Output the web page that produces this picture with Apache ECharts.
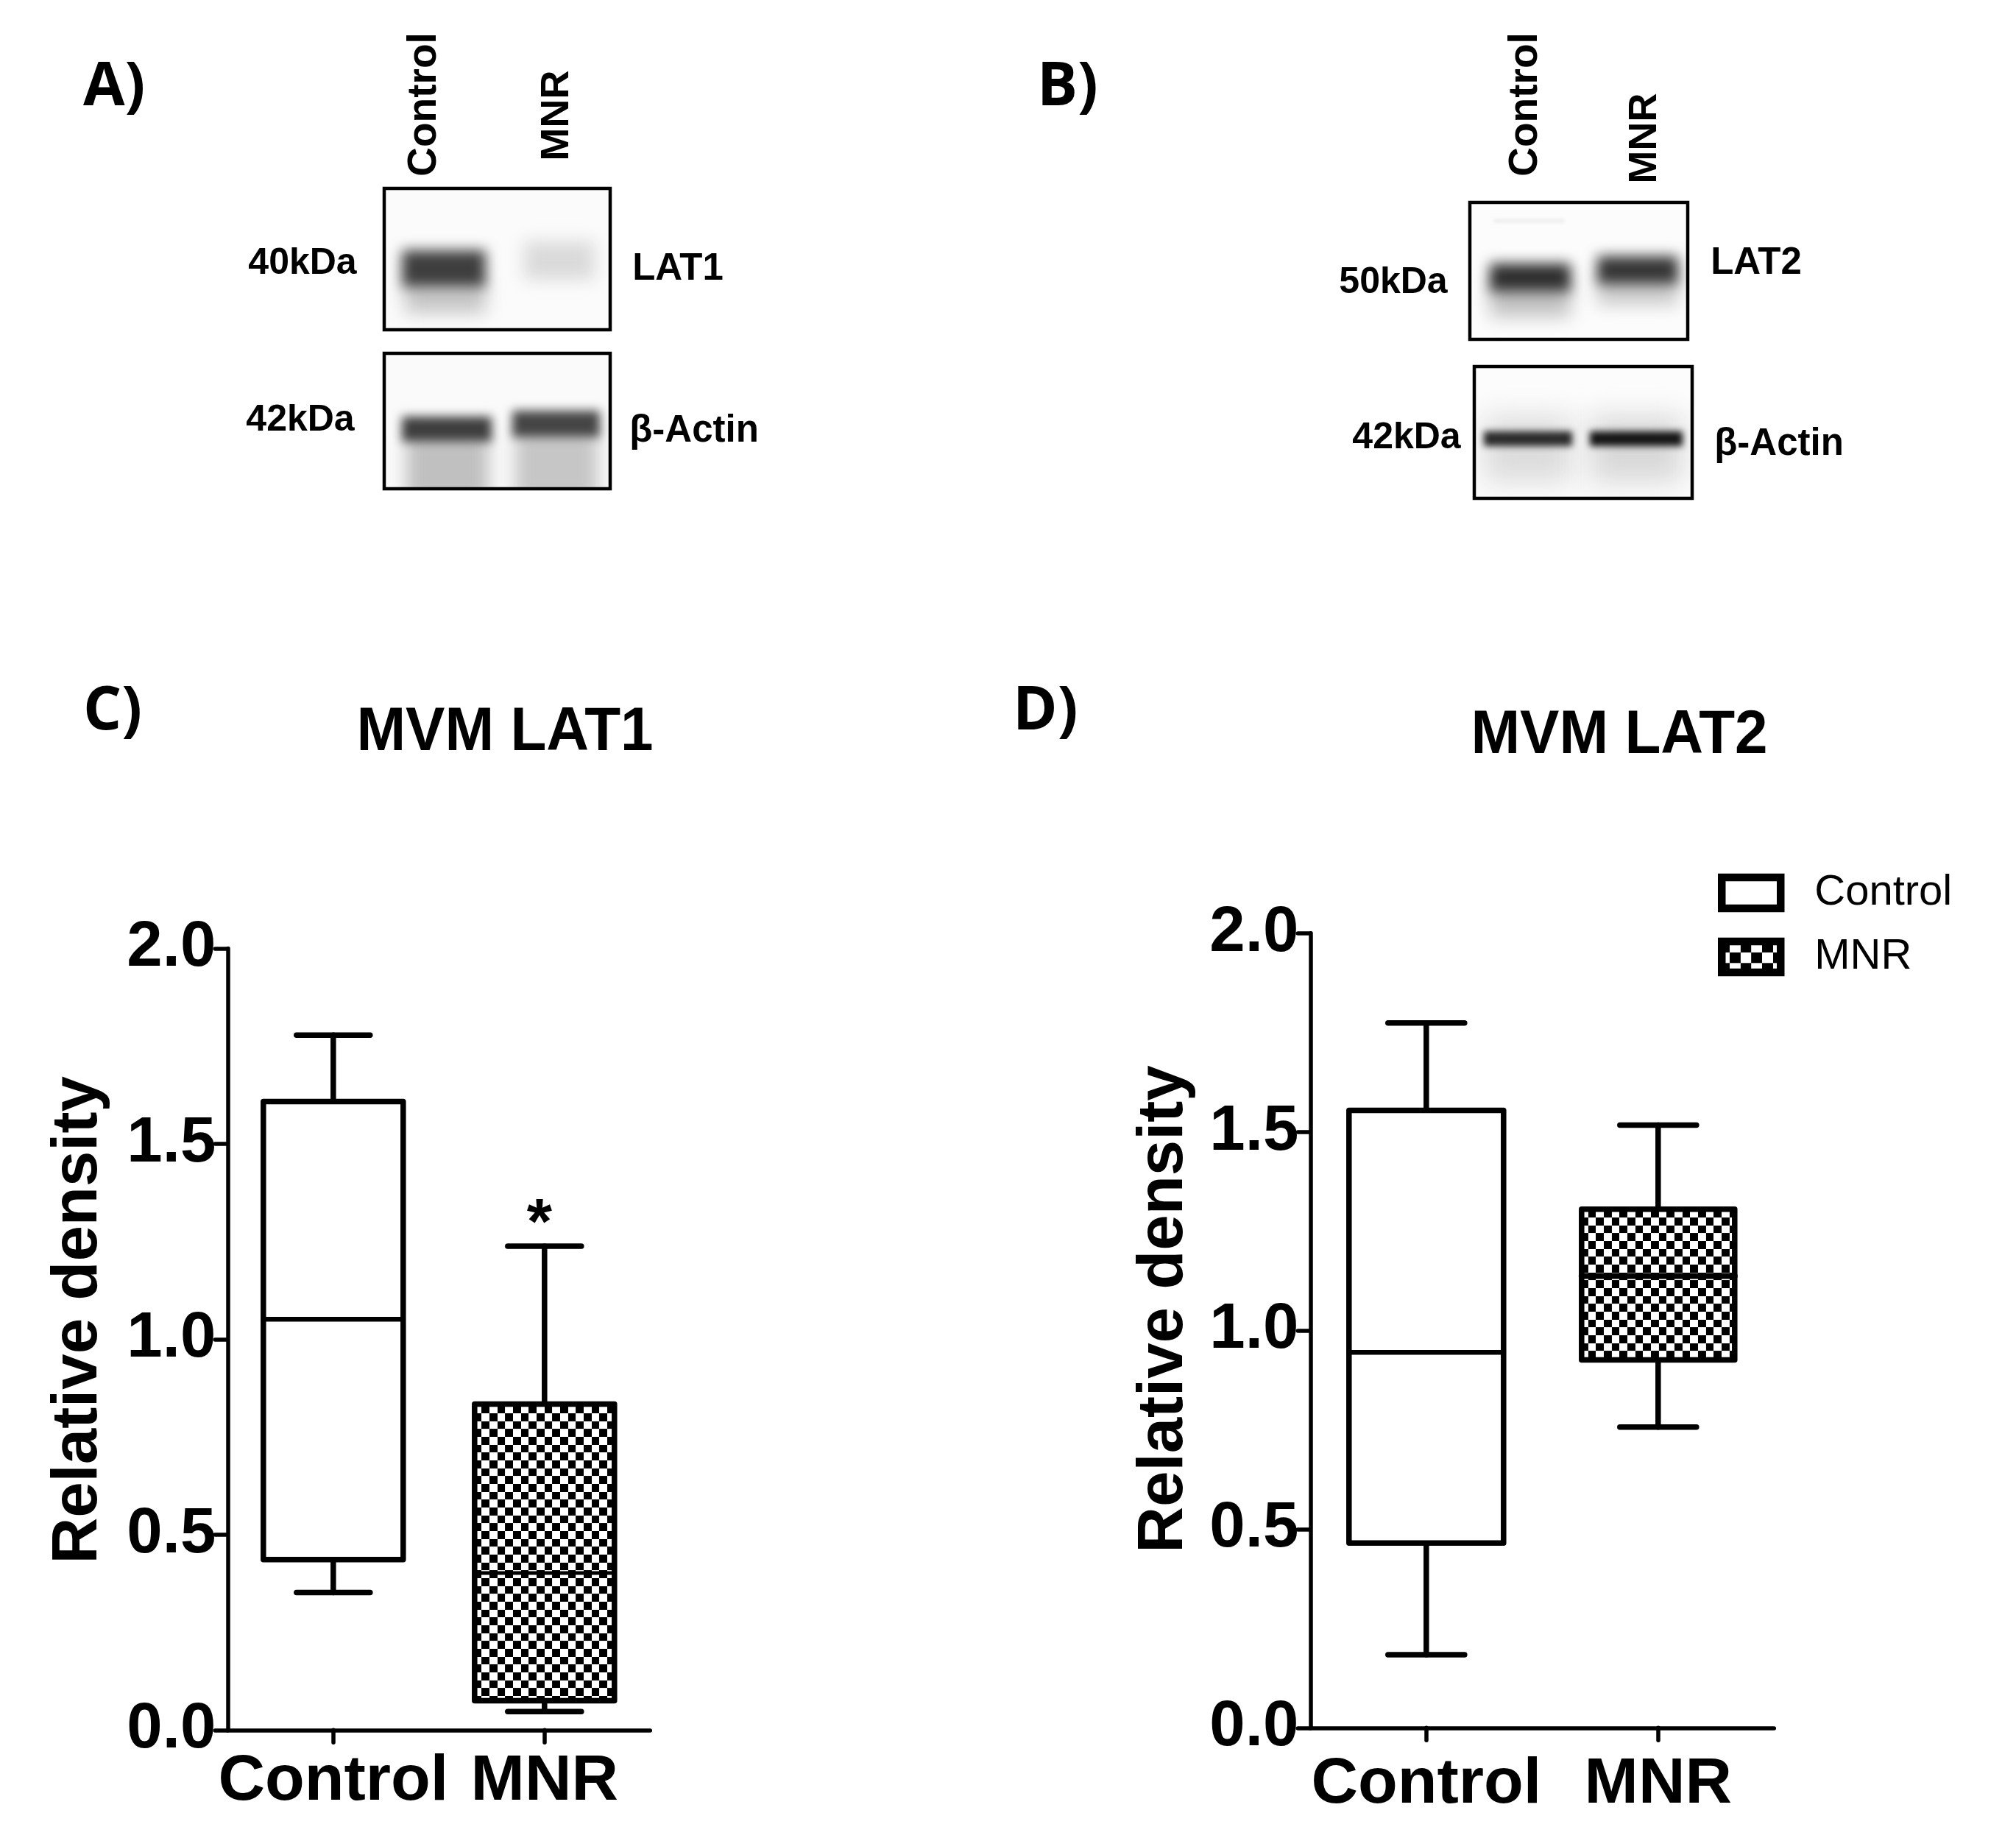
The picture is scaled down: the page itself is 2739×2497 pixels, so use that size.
<!DOCTYPE html>
<html><head><meta charset="utf-8">
<script src="https://cdn.jsdelivr.net/npm/echarts@6/dist/echarts.min.js"></script>
<style>html,body{margin:0;padding:0;background:#fff}#c{width:2739px;height:2497px}</style>
</head><body><div id="c"></div>
<script>
// ---- data: [category index, low whisker, Q1, median, Q3, high whisker]
const categories = ['Control', 'MNR'];
const yTickStep = 0.5;
const lat1Control = [0, 0.352, 0.436, 1.051, 1.608, 1.778];
const lat1MNR     = [1, 0.047, 0.075, 0.402, 0.834, 1.238];
const lat2Control = [0, 0.184, 0.465, 0.945, 1.554, 1.774];
const lat2MNR     = [1, 0.757, 0.926, 1.137, 1.305, 1.517];
const chartTitles = ['MVM LAT1', 'MVM LAT2'];
const yAxisName = 'Relative density';
const FONT = '"Liberation Sans", Arial, sans-serif';

function checker(x, y, size) {
  const cv = document.createElement('canvas');
  cv.width = cv.height = 64;
  const g = cv.getContext('2d');
  g.fillStyle = '#fff'; g.fillRect(0, 0, 64, 64);
  g.fillStyle = '#000'; g.fillRect(0, 0, 32, 32); g.fillRect(32, 32, 32, 32);
  return { image: cv, repeat: 'repeat', x: x, y: y, scaleX: size / 32, scaleY: size / 32 };
}

function boxRenderer(boxW, capW, lw, medW, fill, star) {
  return function (params, api) {
    const cat = api.value(0);
    const x = api.coord([cat, 0])[0];
    const Y = i => api.coord([cat, api.value(i)])[1];
    const low = Y(1), q1 = Y(2), med = Y(3), q3 = Y(4), high = Y(5);
    const line = (x1, y1, x2, y2, w) => ({
      type: 'line', shape: { x1, y1, x2, y2 },
      style: { stroke: '#000', lineWidth: w, fill: null, lineCap: 'round' }
    });
    const kids = [
      line(x, high, x, q3, lw), line(x - capW / 2, high, x + capW / 2, high, lw),
      line(x, low, x, q1, lw), line(x - capW / 2, low, x + capW / 2, low, lw),
      { type: 'rect', shape: { x: x - boxW / 2, y: q3, width: boxW, height: q1 - q3 },
        style: { fill: fill, stroke: '#000', lineWidth: lw, lineJoin: 'round' } },
      line(x - boxW / 2, med, x + boxW / 2, med, medW)
    ];
    if (star) kids.push({ type: 'text', style: {
      text: '*', x: x - 7, y: high - 28, align: 'center', verticalAlign: 'middle',
      font: 'bold 88px ' + FONT, fill: '#000' } });
    return { type: 'group', children: kids };
  };
}

// ---- western blot panels, painted as blurred bands
function blot(w, h, ox, oy, bg, bands) {
  const cv = document.createElement('canvas');
  cv.width = w; cv.height = h;
  const g = cv.getContext('2d');
  g.fillStyle = bg; g.fillRect(0, 0, w, h);
  bands.forEach(b => {
    g.filter = 'blur(' + b[5] + 'px)';
    g.fillStyle = b[4];
    g.fillRect(b[0] - ox, b[1] - oy, b[2] - b[0], b[3] - b[1]);
  });
  g.filter = 'none';
  return cv;
}
const blotPanels = [
  { x: 520, y: 254, w: 311, h: 196, bg: '#fbfbfb', bands: [
    [550, 385, 660, 425, '#c4c4c4', 12],
    [546, 340, 660, 390, '#3e3e3e', 9],
    [712, 328, 808, 380, '#dadada', 11] ] },
  { x: 520, y: 478, w: 311, h: 188, bg: '#fafafa', bands: [
    [552, 592, 664, 680, '#c0c0c0', 11],
    [700, 586, 812, 680, '#c6c6c6', 11],
    [546, 566, 668, 600, '#3e3e3e', 7],
    [696, 558, 815, 594, '#454545', 7] ] },
  { x: 1995, y: 273, w: 300, h: 190, bg: '#fcfcfc', bands: [
    [2030, 298, 2125, 302, '#e8e8e8', 2],
    [2024, 385, 2134, 430, '#c0c0c0', 12],
    [2170, 375, 2280, 415, '#cccccc', 11],
    [2024, 358, 2134, 396, '#2e2e2e', 9],
    [2170, 348, 2280, 386, '#353535', 9] ] },
  { x: 2001, y: 496, w: 300, h: 183, bg: '#fcfcfc', bands: [
    [2016, 565, 2136, 655, '#dcdcdc', 18],
    [2160, 565, 2286, 655, '#d8d8d8', 18],
    [2016, 586, 2136, 606, '#2a2a2a', 5],
    [2160, 586, 2286, 606, '#141414', 5] ] }
];
const blotTexts = [
  ['Control', 577, 142, 55, 90], ['MNR', 757, 157, 54, 90],
  ['Control', 2073, 142, 55, 90], ['MNR', 2235, 188, 54, 90],
  ['40kDa', 411, 358, 50, 0], ['42kDa', 408, 571, 50, 0],
  ['LAT1', 921, 366, 51, 0], ['β-Actin', 943, 586, 51, 0],
  ['50kDa', 1893, 384, 50, 0], ['42kDa', 1911, 595, 50, 0],
  ['LAT2', 2386, 358, 51, 0], ['β-Actin', 2417, 604, 51, 0]
];
const panelLetters = [['A)', 113, 79], ['B)', 1409, 79], ['C)', 113, 927], ['D)', 1376, 927]];

const graphics = [];
blotPanels.forEach(p => {
  graphics.push({ type: 'image', z: 1, style: { image: blot(p.w, p.h, p.x, p.y, p.bg, p.bands), x: p.x, y: p.y, width: p.w, height: p.h } });
  graphics.push({ type: 'rect', z: 2, shape: { x: p.x + 2, y: p.y + 2, width: p.w - 4, height: p.h - 4 }, style: { fill: 'none', stroke: '#000', lineWidth: 4.5 } });
});
blotTexts.forEach(t => graphics.push({
  type: 'text', z: 3, x: t[1], y: t[2], rotation: t[4] * Math.PI / 180,
  style: { text: t[0], x: 0, y: 0, align: 'center', verticalAlign: 'middle', font: 'bold ' + t[3] + 'px ' + FONT, fill: '#000' }
}));
panelLetters.forEach(t => graphics.push({
  type: 'text', z: 3, x: t[1], y: t[2],
  style: { text: t[0], x: 0, y: 0, align: 'left', verticalAlign: 'alphabetic', font: 'bold 82px "Open Sans", sans-serif', fill: '#000' }
}));
[[686, 996, 0], [2200, 1000, 1]].forEach(t => graphics.push({
  type: 'text', z: 3, x: t[0], y: t[1], scaleX: 0.953,
  style: { text: chartTitles[t[2]], x: 0, y: 0, align: 'center', verticalAlign: 'middle', font: 'bold 84px ' + FONT, fill: '#000' }
}));

function xAxis(i, margin) {
  return { type: 'category', gridIndex: i, data: categories,
    axisLine: { show: true, lineStyle: { color: '#000', width: 5.5, cap: 'round' } },
    axisTick: { show: true, alignWithLabel: true, length: 17, lineStyle: { color: '#000', width: 5.5, cap: 'round' } },
    axisLabel: { color: '#000', fontFamily: FONT, fontWeight: 'bold', fontSize: 88, margin: margin, interval: 0 },
    splitLine: { show: false } };
}
function yAxis(i, gap, shift) {
  return { type: 'value', gridIndex: i, min: 0, max: 2, interval: yTickStep,
    name: yAxisName, nameLocation: 'middle', nameGap: gap, nameRotate: 90,
    nameTextStyle: { color: '#000', fontFamily: FONT, fontWeight: 'bold', fontSize: 87, padding: [0, 0, 0, shift] },
    axisLine: { show: true, lineStyle: { color: '#000', width: 5.5, cap: 'round' } },
    axisTick: { show: true, length: 17, lineStyle: { color: '#000', width: 5.5, cap: 'round' } },
    axisLabel: { color: '#000', fontFamily: FONT, fontWeight: 'bold', fontSize: 87, margin: 16, formatter: v => v.toFixed(1) },
    splitLine: { show: false } };
}
function boxSeries(name, grid, rowData, render) {
  return { type: 'custom', name: name, xAxisIndex: grid, yAxisIndex: grid, data: [rowData],
    renderItem: render, clip: false, silent: true, animation: false,
    encode: { x: 0, y: [1, 2, 3, 4, 5] } };
}

const chart = echarts.init(document.getElementById('c'), null, { renderer: 'canvas', width: 2739, height: 2497 });
chart.setOption({
  backgroundColor: '#fff',
  animation: false,
  grid: [
    { left: 309.3, top: 1288.5, width: 574, height: 1061.8 },
    { left: 1780.3, top: 1267.7, width: 630, height: 1079.6 }
  ],
  xAxis: [xAxis(0, 26), xAxis(1, 33)],
  yAxis: [yAxis(0, 159, 52), yAxis(1, 155, 58)],
  legend: {
    left: 2334, top: 1184, orient: 'vertical', padding: 0, itemWidth: 80, itemHeight: 42, itemGap: 29,
    selectedMode: false,
    textStyle: { fontFamily: FONT, fontSize: 58, color: '#000', padding: [0, 0, 0, 41], height: 42, lineHeight: 42 },
    data: [
      { name: 'Control', icon: 'rect', itemStyle: { color: '#fff', borderColor: '#000', borderWidth: 10.5 } },
      { name: 'MNR', icon: 'rect', itemStyle: { color: checker(-4, 0, 14.7), borderColor: '#000', borderWidth: 10.5 } }
    ]
  },
  graphic: graphics,
  series: [
    boxSeries('Control', 0, lat1Control, boxRenderer(190, 100, 7.5, 6.5, '#fff', false)),
    boxSeries('MNR', 0, lat1MNR, boxRenderer(190, 100, 7.5, 5, checker(665, 1920, 10.667), true)),
    boxSeries('Control', 1, lat2Control, boxRenderer(210, 104, 7.5, 6.5, '#fff', false)),
    boxSeries('MNR', 1, lat2MNR, boxRenderer(208, 104, 7.5, 8, checker(2168.3, 1654, 10.667), false))
  ]
});
</script></body></html>
